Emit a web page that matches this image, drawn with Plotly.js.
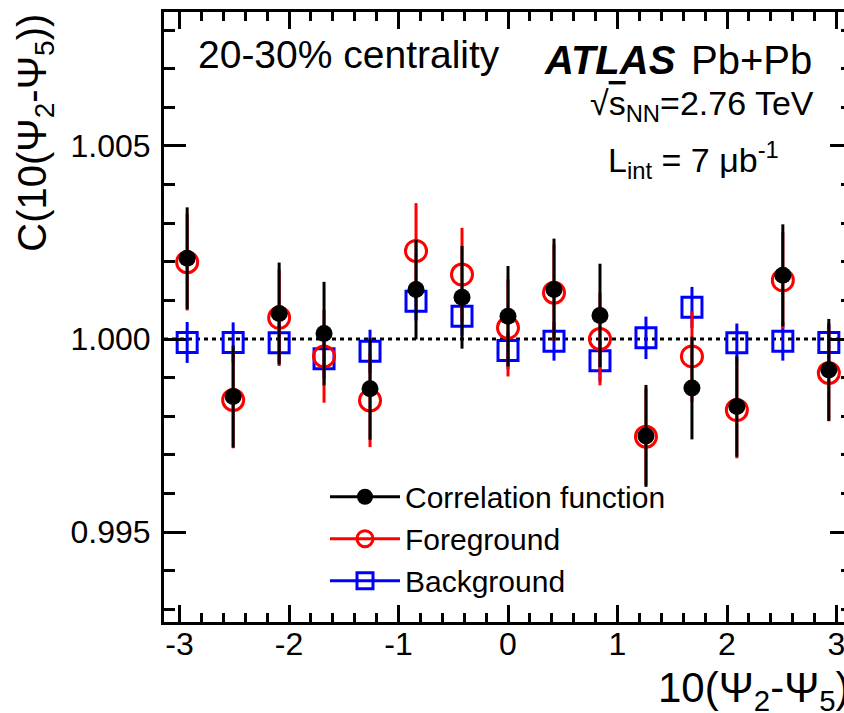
<!DOCTYPE html>
<html><head><meta charset="utf-8">
<script src="https://cdn.plot.ly/plotly-3.0.1.min.js"></script>
<style>html,body{margin:0;padding:0;overflow:hidden;background:#fff}</style>
</head><body><div id="chart"></div>
<script>
const xCenters = [-2.93,-2.51,-2.09,-1.68,-1.26,-0.84,-0.42,0.00,0.42,0.84,1.26,1.68,2.09,2.51,2.93];
const corrVals = [1.00209,0.99851,1.00066,1.00014,0.99871,1.00128,1.00108,1.00059,1.00128,1.00061,0.99749,0.99873,0.99825,1.00165,0.99920];
const corrErr  = [0.00132,0.00132,0.00132,0.00134,0.00132,0.00129,0.00133,0.00130,0.00132,0.00134,0.00132,0.00133,0.00130,0.00132,0.00132];
const fgVals   = [1.00199,0.99842,1.00055,0.99955,0.99841,1.00228,1.00167,1.00029,1.00120,1.00000,0.99747,0.99955,0.99816,1.00152,0.99912];
const fgErr    = [0.00125,0.00125,0.00125,0.00120,0.00121,0.00124,0.00121,0.00126,0.00125,0.00120,0.00125,0.00117,0.00125,0.00125,0.00125];
const bgVals   = [0.99991,0.99991,0.99990,0.99949,0.99968,1.00098,1.00059,0.99970,0.99994,0.99944,1.00003,1.00082,0.99990,0.99994,0.99991];
const bgErr    = [0.00053,0.00052,0.00050,0.00050,0.00056,0.00050,0.00050,0.00048,0.00050,0.00054,0.00055,0.00053,0.00050,0.00050,0.00050];
const xTickVals = [-3,-2,-1,0,1,2,3];
const xTickText = ['-3','-2','-1','0','1','2','3'];
const yTickVals = [0.995,1.000,1.005];
const yTickText = ['0.995','1.000','1.005'];
const seriesNames = ['Correlation function','Foreground','Background'];

const FONT = 'Liberation Sans, Arial, Helvetica, sans-serif';
const X_RANGE = [-Math.PI, Math.PI];
const Y_RANGE = [0.99267, 1.00847];

// minor tick positions (axis decoration): every 0.2 on x, every 0.001 on y
const xMinorVals = [];
for (let k = -15; k <= 15; k++) { if (k % 5 !== 0) xMinorVals.push(k * 0.2); }
const yMinorVals = [];
for (let k = -7; k <= 8; k++) { if (k % 5 !== 0) yMinorVals.push(1 + k * 0.001); }

const corrMarker = {symbol:'circle', size:17, color:'#000000', line:{width:0}};
const fgMarker = {symbol:'circle-open', size:21, color:'#ff0000', line:{width:3, color:'#ff0000'}};
const bgMarker = {symbol:'square-open', size:20, color:'#0000ff', line:{width:3, color:'#0000ff'}};

const traces = [
  {x:[null], y:[null], name:seriesNames[0], mode:'lines+markers', marker:corrMarker, line:{color:'#000000', width:3}},
  {x:[null], y:[null], name:seriesNames[1], mode:'lines+markers', marker:fgMarker, line:{color:'#ff0000', width:3}},
  {x:[null], y:[null], name:seriesNames[2], mode:'lines+markers', marker:bgMarker, line:{color:'#0000ff', width:3}},
  {x:xCenters, y:bgVals, mode:'markers', showlegend:false, marker:bgMarker,
   error_y:{type:'data', array:bgErr, visible:true, color:'#0000ff', thickness:3, width:0}},
  {x:xCenters, y:fgVals, mode:'markers', showlegend:false, marker:fgMarker,
   error_y:{type:'data', array:fgErr, visible:true, color:'#ff0000', thickness:3, width:0}},
  {x:xCenters, y:corrVals, mode:'markers', showlegend:false, marker:corrMarker,
   error_y:{type:'data', array:corrErr, visible:true, color:'#000000', thickness:3, width:0}}
];

const layout = {
  width:862, height:713,
  margin:{l:164, r:10, t:12, b:91},
  paper_bgcolor:'#ffffff', plot_bgcolor:'#ffffff',
  font:{family:FONT, color:'#000000'},
  showlegend:true,
  legend:{x:0.234, y:0.248, xanchor:'left', yanchor:'top', bgcolor:'rgba(0,0,0,0)',
          font:{family:FONT, size:30, color:'#000000'}, itemwidth:70, tracegroupgap:0},
  xaxis:{
    range:X_RANGE, tickmode:'array', tickvals:xTickVals, ticktext:xTickText,
    showline:true, linewidth:3, linecolor:'#000000', mirror:'ticks',
    ticks:'inside', ticklen:17, tickwidth:3, tickcolor:'#000000',
    minor:{tickmode:'array', tickvals:xMinorVals, ticks:'inside', ticklen:9, tickwidth:3, tickcolor:'#000000', showgrid:false},
    showgrid:false, zeroline:false, ticklabelstandoff:-8,
    tickfont:{family:FONT, size:32, color:'#000000'}
  },
  yaxis:{
    range:Y_RANGE, tickmode:'array', tickvals:yTickVals, ticktext:yTickText,
    showline:true, linewidth:3, linecolor:'#000000', mirror:'ticks',
    ticks:'inside', ticklen:22, tickwidth:3, tickcolor:'#000000',
    minor:{tickmode:'array', tickvals:yMinorVals, ticks:'inside', ticklen:11, tickwidth:3, tickcolor:'#000000', showgrid:false},
    showgrid:false, zeroline:false, ticklabelstandoff:4,
    tickfont:{family:FONT, size:32, color:'#000000'}
  },
  shapes:[{type:'line', xref:'paper', x0:0, x1:1, yref:'y', y0:1, y1:1, layer:'below',
           line:{color:'#000000', width:3, dash:'4px,4px'}}],
  annotations:[
    {xref:'paper', yref:'paper', x:0.046, y:0.931, xanchor:'left', yanchor:'middle', showarrow:false,
     text:'20-30% centrality', font:{family:FONT, size:39, color:'#000000'}},
    {xref:'paper', yref:'paper', x:0.549, y:0.921, xanchor:'left', yanchor:'middle', showarrow:false,
     text:'<b><i>ATLAS</i></b>', font:{family:FONT, size:40, color:'#000000'}},
    {xref:'paper', yref:'paper', x:0.7625, y:0.921, xanchor:'left', yanchor:'middle', showarrow:false,
     text:'Pb+Pb', font:{family:FONT, size:40, color:'#000000'}},
    {xref:'paper', yref:'paper', x:0.617, y:0.847, xanchor:'left', yanchor:'middle', showarrow:false,
     text:'√<span style="text-decoration:overline">s</span><sub>NN</sub>=2.76 TeV', font:{family:FONT, size:34, color:'#000000'}},
    {xref:'paper', yref:'paper', x:0.642, y:0.757, xanchor:'left', yanchor:'middle', showarrow:false,
     text:'L<sub>int</sub> = 7 μb<sup>-1</sup>', font:{family:FONT, size:34, color:'#000000'}},
    {xref:'paper', yref:'paper', x:1.0, y:-0.113, xanchor:'right', yanchor:'middle', showarrow:false,
     text:'10(Ψ<sub>2</sub>-Ψ<sub>5</sub>)', font:{family:FONT, size:42, color:'#000000'}},
    {xref:'paper', yref:'paper', x:-0.188, y:1.0, xanchor:'center', yanchor:'top', showarrow:false, textangle:-90,
     text:'C(10(Ψ<sub>2</sub>-Ψ<sub>5</sub>))', font:{family:FONT, size:40, color:'#000000'}}
  ]
};

Plotly.newPlot('chart', traces, layout, {displayModeBar:false, staticPlot:true});
</script>
</body></html>
